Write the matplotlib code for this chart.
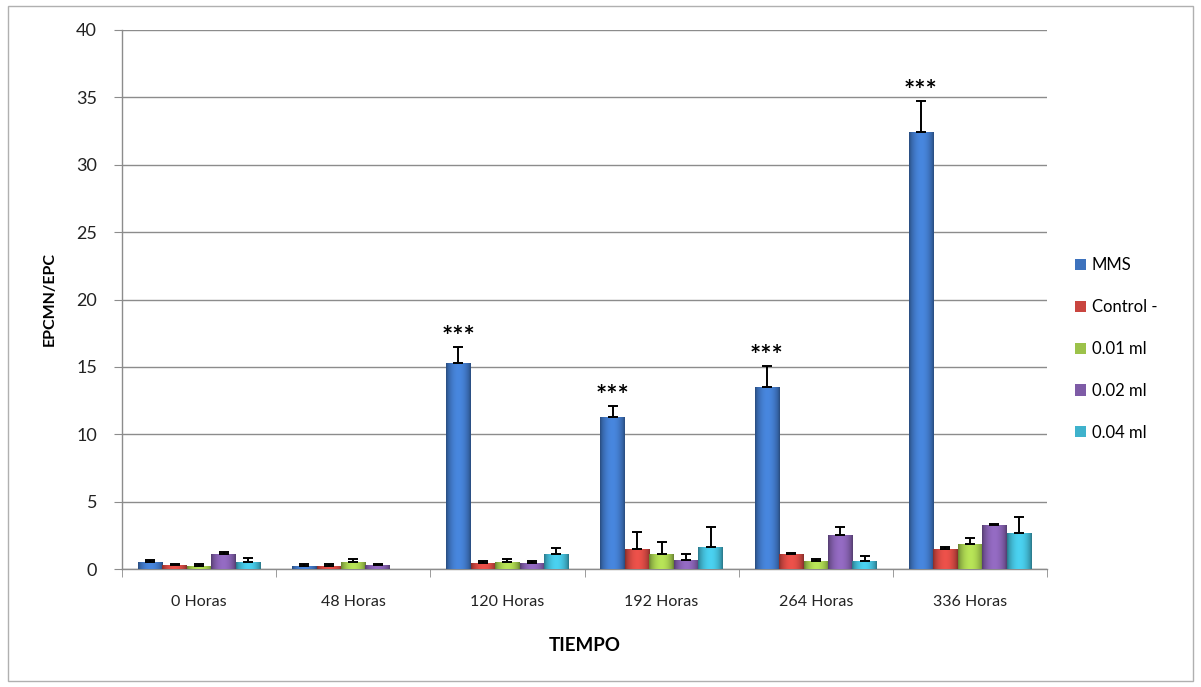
import numpy as np
import matplotlib
matplotlib.use("Agg")
import matplotlib.pyplot as plt
from matplotlib.patches import Rectangle, Patch
from matplotlib.colors import to_rgb

plt.rcParams['font.family'] = ['Lato', 'DejaVu Sans']

# Data
categories = ["0 Horas", "48 Horas", "120 Horas", "192 Horas", "264 Horas", "336 Horas"]
series_names = ["MMS", "Control -", "0.01 ml", "0.02 ml", "0.04 ml"]
mms = [0.5, 0.25, 15.3, 11.3, 13.5, 32.4]
mms_err = [0.15, 0.1, 1.2, 0.8, 1.6, 2.3]
control = [0.3, 0.25, 0.45, 1.5, 1.1, 1.5]
control_err = [0.1, 0.1, 0.15, 1.25, 0.1, 0.1]
ml001 = [0.25, 0.5, 0.55, 1.15, 0.6, 1.85]
ml001_err = [0.1, 0.25, 0.2, 0.85, 0.15, 0.45]
ml002 = [1.15, 0.3, 0.45, 0.65, 2.5, 3.25]
ml002_err = [0.1, 0.1, 0.15, 0.45, 0.6, 0.1]
ml004 = [0.5, 0.0, 1.15, 1.65, 0.6, 2.7]
ml004_err = [0.3, 0.0, 0.4, 1.45, 0.35, 1.15]
significant = [False, False, True, True, True, True]

values = [mms, control, ml001, ml002, ml004]
errors = [mms_err, control_err, ml001_err, ml002_err, ml004_err]
colors = ["#3d72bd", "#c9453f", "#9cc24a", "#7e5ba6", "#3fb2cc"]

W, H = 1201, 687
fig = plt.figure(figsize=(W / 100, H / 100), dpi=100)
fig.patches.append(Rectangle((8 / W, 6 / H), (1193 - 8) / W, (681 - 6) / H,
                             transform=fig.transFigure, fill=False,
                             edgecolor="#b0b0b0", linewidth=1.0))

ax = fig.add_axes([122 / W, 1 - 569 / H, (1047 - 122) / W, (569 - 30) / H])

n = len(series_names)
gap = 1.3
bw = 1.0 / (n + gap)
x = np.arange(len(categories))


def shaded(color, steps=64):
    r, g, b = to_rgb(color)
    t = np.linspace(-1, 1, steps)
    f = 1.18 - 0.45 * t ** 2
    f[0:3] = 0.7
    f[-3:] = 0.7
    img = np.zeros((1, steps, 3))
    for i, c in enumerate((r, g, b)):
        img[0, :, i] = np.clip(c * f, 0, 1)
    return img


for i, (vals, errs, col) in enumerate(zip(values, errors, colors)):
    xs = x - 0.5 + gap / 2 * bw + (i + 0.5) * bw
    bars = ax.bar(xs, vals, width=bw, color=col, zorder=3, linewidth=0)
    img = shaded(col)
    for b in bars:
        if b.get_height() <= 0:
            continue
        im = ax.imshow(img, extent=[b.get_x(), b.get_x() + b.get_width(), 0, b.get_height()],
                       aspect="auto", zorder=3.5, interpolation="bilinear")
        im.set_clip_path(b)
    vals_a = np.array(vals)
    errs_a = np.array(errs)
    mask = errs_a > 0
    ax.errorbar(xs[mask], vals_a[mask], yerr=[np.zeros(mask.sum()), errs_a[mask]],
                fmt="none", ecolor="black", elinewidth=1.4, capsize=3.5,
                capthick=1.4, zorder=4)
    if i == 0:
        for xx, v, e, s in zip(xs, vals, errs, significant):
            if s:
                ax.text(xx, v + e - 0.15, "***", ha="center", va="bottom",
                        fontsize=19, fontweight="bold", color="black", zorder=5)

ax.set_xlim(-0.5, len(categories) - 0.5)
ax.set_ylim(0, 40)
ax.set_yticks(np.arange(0, 41, 5))
ax.yaxis.grid(True, color="#8c8c8c", linewidth=1.0, zorder=0)
ax.set_axisbelow(True)

ax.set_xticks(x)
ax.set_xticklabels(categories, fontsize=11.5, color="#222222")
ax.set_xticks(np.arange(-0.5, len(categories) + 0.5, 1.0), minor=True)
ax.tick_params(axis="x", which="major", length=0, pad=19)
ax.tick_params(axis="x", which="minor", length=6, color="#8c8c8c", direction="out")
ax.tick_params(axis="y", length=6, color="#8c8c8c", labelsize=13, labelcolor="#222222", pad=12)

for side in ("top", "right"):
    ax.spines[side].set_visible(False)
for side in ("left", "bottom"):
    ax.spines[side].set_color("#8c8c8c")
    ax.spines[side].set_linewidth(1.0)

ax.set_ylabel("EPCMN/EPC", fontsize=11.5, fontweight="bold", labelpad=14)
ax.set_xlabel("TIEMPO", fontsize=13.5, fontweight="bold", labelpad=20)

handles = [Patch(facecolor=c, edgecolor="none") for c in colors]
fig.legend(handles, series_names, loc="center left",
           bbox_to_anchor=(1060 / W, 1 - 349 / H), frameon=False, fontsize=12,
           handlelength=0.65, handleheight=0.65, handletextpad=0.35, labelspacing=1.55)

fig.savefig("out.png", dpi=100)
